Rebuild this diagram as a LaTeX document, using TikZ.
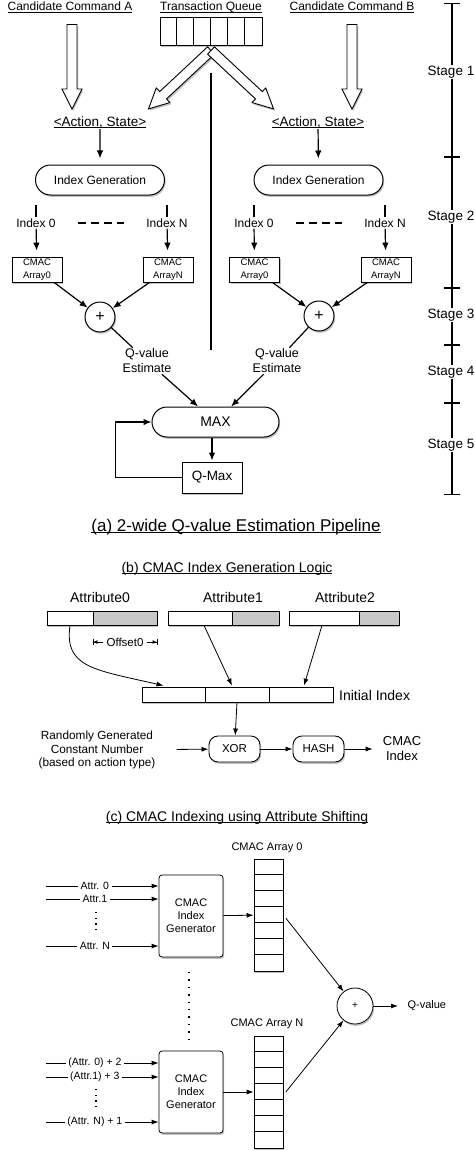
\documentclass[tikz,border=0pt]{standalone}
\usepackage{fontspec}
\setmainfont{Liberation Sans}
\usetikzlibrary{arrows.meta,positioning,calc,shapes.misc,shadows}
\definecolor{attrGray}{RGB}{200,200,200}
\definecolor{shadeGray}{RGB}{80,80,80}
\newcommand{\ulin}[1]{\leavevmode\setbox0\hbox{#1}\rlap{\rule[-1.8pt]{\wd0}{0.7pt}}\box0}
\newcommand{\fsz}[1]{\fontsize{#1}{1.2\dimexpr#1pt\relax}\selectfont}
% hollow block arrow between two points
\newcommand{\fatarrow}[2]{%
  \draw[hollow] let \p1=($(#2)-(#1)$), \n1={atan2(\y1,\x1)}, \n2={veclen(\x1,\y1)}, \n3={veclen(\x1,\y1)-20} in
    [shift={(#1)}, rotate=\n1] (0pt,5pt) -- (\n3,5pt) -- (\n3,10pt) -- (\n2,0pt)
    -- (\n3,-10pt) -- (\n3,-5pt) -- (0pt,-5pt) -- cycle;}
\tikzset{
  shd/.style={drop shadow={shadow xshift=1.2pt, shadow yshift=-1.8pt, opacity=0.35, fill=shadeGray}},
  title/.style={font=\fsz{12}, inner sep=1pt},
  caption/.style={font=\fsz{14}, inner sep=1pt},
  lbl/.style={font=\fontsize{12.5}{15}\selectfont, align=center, inner sep=1pt},
  stadium/.style={draw, fill=white, rounded rectangle, line width=1pt, minimum height=30pt, inner sep=0pt, shd},
  cmacbox/.style={draw, fill=white, line width=0.8pt, minimum width=50pt, minimum height=25pt, inner sep=0pt, align=center, font=\fontsize{9.5}{13}\selectfont, shd},
  adder/.style={draw, fill=white, circle, line width=1pt, inner sep=0pt, shd},
  plainbox/.style={draw, fill=white, line width=1pt, inner sep=0pt, shd},
  hollow/.style={draw, fill=white, line width=0.9pt, line join=miter, shd},
  arrow/.style={-{Latex[length=8pt,width=6.5pt]}, line width=1.2pt},
  link/.style={line width=1.2pt},
  stagelbl/.style={fill=white, font=\fsz{13.5}, inner sep=1pt},
  attrbox/.style={draw, line width=0.8pt, minimum height=14pt, inner sep=0pt, shd},
  rbox/.style={draw, fill=white, rounded corners=9pt, line width=0.9pt, minimum width=51pt, minimum height=26pt, inner sep=0pt, font=\fsz{11.5}, shd},
  genbox/.style={draw, fill=white, rounded corners=3pt, line width=0.8pt, minimum width=64pt, minimum height=82pt, align=center, font=\fontsize{11}{13}\selectfont, shd},
  arr/.style={-{Latex[length=7pt,width=5pt]}, line width=0.8pt},
  inlbl/.style={fill=white, inner sep=2.5pt, font=\fsz{10.5}}
}
\begin{document}
\begin{tikzpicture}[x=1pt,y=-1pt]
  \useasboundingbox (0,0) rectangle (474,1151);

  % (a) pipeline heads
  \node[title, anchor=base] (candA) at (70,10.5) {\ulin{Candidate Command A}};
  \node[title, anchor=base] (tq) at (211,10.5) {\ulin{Transaction Queue}};
  \node[title, anchor=base] (candB) at (352,10.5) {\ulin{Candidate Command B}};
  \node[plainbox, minimum width=102pt, minimum height=28pt] (queue) at (211,31) {};
  \foreach \i in {1,...,5}
    \draw[line width=1pt] ($(queue.north west)+(\i*17,0)$) -- ($(queue.south west)+(\i*17,0)$);

  \node[font=\fsz{13.5}, inner sep=1pt, anchor=base] (actA) at (100,126) {\ulin{<Action, State>}};
  \node[font=\fsz{13.5}, inner sep=1pt, anchor=base] (actB) at (318,126) {\ulin{<Action, State>}};

  % block arrows
  \path (candA.south) ++(2,11) coordinate (tailA);
  \path (tailA |- actA.north) ++(0,-6) coordinate (tipA);
  \path (candB.south) ++(0,11) coordinate (tailB);
  \path (tailB |- actB.north) ++(0,-6) coordinate (tipB);
  \path (queue.south) ++(0,5) coordinate (qtail);
  \path (actA.north east) ++(1,-6) coordinate (tipQA);
  \path (actB.north west) ++(3,-6) coordinate (tipQB);
  \fatarrow{tailA}{tipA}
  \fatarrow{tailB}{tipB}
  \fatarrow{qtail}{tipQA}
  \fatarrow{qtail}{tipQB}

  % index generation lanes
  \node[stadium, minimum width=129pt, font=\fsz{12}] (idxA) at (100,180) {Index Generation};
  \node[stadium, minimum width=129pt, font=\fsz{12}] (idxB) at (318.5,180) {Index Generation};
  \draw[arrow, shorten >=6pt] (actA) -- (idxA);
  \draw[arrow, shorten >=6pt] (actB) -- (idxB);

  \node[lbl, font=\fsz{12}] (idx0A) at (36,223) {Index 0};
  \node[lbl, font=\fsz{12}] (idxNA) at (167,223) {Index N};
  \node[lbl, font=\fsz{12}] (idx0B) at (254,223) {Index 0};
  \node[lbl, font=\fsz{12}] (idxNB) at (385,223) {Index N};
  \foreach \n in {idx0A,idxNA,idx0B,idxNB}
    \draw[link] (\n.north) -- ++(0,-12);
  \draw[link, dash pattern=on 8pt off 5pt, shorten <=21pt, shorten >=21pt] (idx0A) -- (idxNA);
  \draw[link, dash pattern=on 8pt off 5pt, shorten <=21pt, shorten >=21pt] (idx0B) -- (idxNB);

  \node[cmacbox] (arr0A) at (37,269.5) {CMAC\\Array0};
  \node[cmacbox] (arrNA) at (168,269.5) {CMAC\\ArrayN};
  \node[cmacbox] (arr0B) at (254.5,269.5) {CMAC\\Array0};
  \node[cmacbox] (arrNB) at (386,269.5) {CMAC\\ArrayN};
  \draw[arrow, shorten >=6pt] (idx0A) -- (arr0A);
  \draw[arrow, shorten >=6pt] (idxNA) -- (arrNA);
  \draw[arrow, shorten >=6pt] (idx0B) -- (arr0B);
  \draw[arrow, shorten >=6pt] (idxNB) -- (arrNB);

  \node[adder, minimum size=30pt, font=\fsz{16}] (plusA) at (100,317) {+};
  \node[adder, minimum size=30pt, font=\fsz{16}] (plusB) at (319,316) {+};
  \draw[arrow] (arr0A) -- (plusA);
  \draw[arrow] (arrNA) -- (plusA);
  \draw[arrow] (arr0B) -- (plusB);
  \draw[arrow] (arrNB) -- (plusB);

  \node[lbl] (qvA) at (147,361) {Q-value\\Estimate};
  \node[lbl] (qvB) at (277,361) {Q-value\\Estimate};
  \draw[link] (plusA) -- (qvA);
  \draw[link] (plusB) -- (qvB);
  \draw[link] (queue.south) ++(0,27) -- ++(0,277);

  \node[stadium, minimum width=127pt, font=\fsz{14}] (max) at (215.5,422) {MAX};
  \node[plainbox, minimum width=60pt, minimum height=31pt, font=\fsz{13.5}] (qmax) at (212,477.5) {Q-Max};
  \draw[arrow] (qvA) -- (max);
  \draw[arrow] (qvB) -- (max);
  \draw[arrow, shorten >=1pt] (qmax.north |- max.south) -- (qmax.north);
  \draw[arrow] (qmax.west) -- ++(-66,0) |- (max.west);

  % stage ruler
  \draw[link, {Bar[width=16pt]}-{Bar[width=16pt]}] (452,3) -- (452,495);
  \foreach \y in {157,288,345,403}
    \draw[link] (444,\y) -- (460,\y);
  \foreach \y/\s in {72/1,217/2,315/3,372/4,445/5}
    \node[stagelbl] (stage\s) at (451,\y) {Stage \s};

  \node[caption, font=\fsz{17}, anchor=base] (capA) at (236,531) {\ulin{(a) 2-wide Q-value Estimation Pipeline}};

  % (b) index generation logic
  \node[caption, anchor=base] (capB) at (227,572) {\ulin{(b) CMAC Index Generation Logic}};
  \node[caption] (att0) at (100,597) {Attribute0};
  \node[caption] (att1) at (233,597) {Attribute1};
  \node[caption] (att2) at (345,597) {Attribute2};
  \node[attrbox, fill=white, minimum width=46pt] (a0L) at (70,618) {};
  \node[attrbox, fill=attrGray, minimum width=64pt] (a0R) at (125,618) {};
  \node[attrbox, fill=white, minimum width=64pt] (a1L) at (200,618) {};
  \node[attrbox, fill=attrGray, minimum width=47pt] (a1R) at (255.5,618) {};
  \node[attrbox, fill=white, minimum width=70pt] (a2L) at (324,618) {};
  \node[attrbox, fill=attrGray, minimum width=40pt] (a2R) at (379,618) {};

  \node[font=\fsz{11.5}, inner sep=3pt] (off0) at (125,642) {Offset0};
  \draw[line width=0.8pt, -{Latex[length=4pt,width=4pt]Bar[width=6pt]}] (off0.west) -- (a0R.west |- off0);
  \draw[line width=0.8pt, -{Latex[length=4pt,width=4pt]Bar[width=6pt]}] (off0.east) -- (a0R.east |- off0);

  \node[attrbox, fill=white, minimum width=63pt, minimum height=15pt] (ii1) at (173.5,694.5) {};
  \node[attrbox, fill=white, minimum width=64pt, minimum height=15pt] (ii2) at (237,694.5) {};
  \node[attrbox, fill=white, minimum width=64pt, minimum height=15pt] (ii3) at (301,694.5) {};
  \node[caption, anchor=west] (initIdx) at (338,695) {Initial Index};

  \draw[arr] (a0L.south) .. controls +(-6,42) and +(-70,-16) .. ($(ii1.north)+(-10,-1)$);
  \draw[arr] ($(a1L.south)+(4,0)$) -- ($(ii2.north)+(-5,-1)$);
  \draw[arr] ($(a2L.south)+(-2,0)$) -- ($(ii3.north)+(3,-1)$);

  \node[rbox] (xor) at (234.5,749) {XOR};
  \node[rbox] (hash) at (318.5,749) {HASH};
  \node[lbl, font=\fontsize{11.8}{13.5}\selectfont] (rand) at (97,750) {Randomly Generated\\Constant Number\\(based on action type)};
  \node[lbl, font=\fontsize{13}{15}\selectfont, inner sep=3pt] (cmacIdx) at (402,749) {CMAC\\Index};
  \draw[arr] (ii2.south |- ii1.south) -- (xor);
  \draw[arr, shorten <=20pt] (rand) -- (xor);
  \draw[arr] (xor) -- (hash);
  \draw[arr, shorten >=7pt] (hash) -- (cmacIdx);

  % (c) attribute shifting
  \node[caption, anchor=base] (capC) at (237,821) {\ulin{(c) CMAC Indexing using Attribute Shifting}};

  \node[font=\fsz{11}] (lblArr0) at (267,848) {CMAC Array 0};
  \node[plainbox, line width=0.8pt, minimum width=29pt, minimum height=112pt] (col0) at (268.5,915) {};
  \foreach \i in {1,...,6}
    \draw[line width=0.8pt] ($(col0.north west)+(0,\i*16)$) -- ++(29,0);
  \node[genbox] (gen0) at (191,916) {CMAC\\Index\\Generator};
  \foreach \y/\t [count=\i] in {886/Attr. 0, 899/Attr.1, 946/Attr. N} {
    \coordinate (ina\i) at (46,\y);
    \draw[arr] (ina\i) -- node[inlbl, pos=0.434] {\t} (ina\i -| gen0.west);
  }
  \draw[line width=1.4pt, dash pattern=on 1.4pt off 4.2pt] (96,912) -- (96,934);
  \draw[arr] (gen0) -- (col0);

  \draw[line width=1.4pt, dash pattern=on 1.4pt off 6pt] (189,972) -- (189,1039);

  \node[font=\fsz{11}] (lblArrN) at (267,1024) {CMAC Array N};
  \node[plainbox, line width=0.8pt, minimum width=29pt, minimum height=112pt] (colN) at (268.5,1092) {};
  \foreach \i in {1,...,6}
    \draw[line width=0.8pt] ($(colN.north west)+(0,\i*16)$) -- ++(29,0);
  \node[genbox] (genN) at (191,1092) {CMAC\\Index\\Generator};
  \foreach \y/\t [count=\i] in {1063/{(Attr. 0) + 2}, 1077/{(Attr.1) + 3}, 1122/{(Attr. N) + 1}} {
    \coordinate (inb\i) at (46,\y);
    \draw[arr] (inb\i) -- node[inlbl, pos=0.434] {\t} (inb\i -| genN.west);
  }
  \draw[line width=1.4pt, dash pattern=on 1.4pt off 4.2pt] (96,1089) -- (96,1111);
  \draw[arr] (genN) -- (colN);

  \node[adder, line width=0.8pt, minimum size=36pt, font=\fsz{10}] (plusC) at (355,1006) {+};
  \node[font=\fsz{11}, anchor=west] (qvC) at (404,1006) {Q-value};
  \draw[arr, shorten <=4pt] (col0.east) -- (plusC);
  \draw[arr, shorten <=4pt] ($(colN.east)+(0,3)$) -- (plusC);
  \draw[arr, shorten >=6pt] (plusC) -- (qvC);
\end{tikzpicture}
\end{document}
